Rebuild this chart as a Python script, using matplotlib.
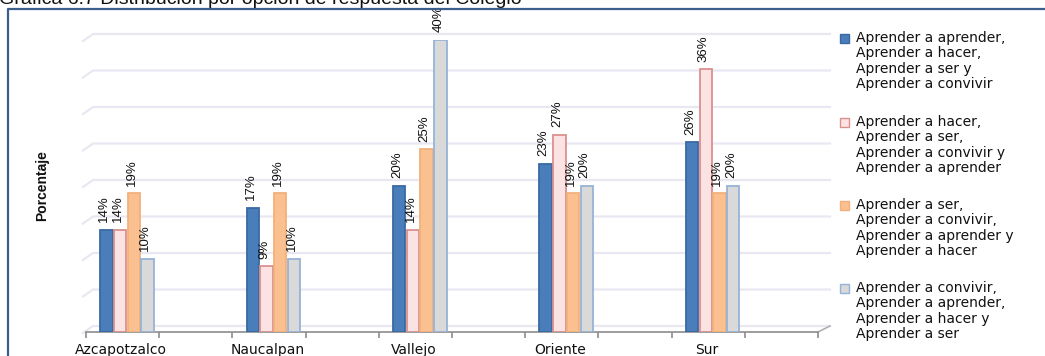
import matplotlib
matplotlib.use("Agg")
import matplotlib.pyplot as plt
from matplotlib.patches import Rectangle
from matplotlib.lines import Line2D
import numpy as np

# ---- data ----
categories = ["Azcapotzalco", "Naucalpan", "Vallejo", "Oriente", "Sur"]
series_labels = [
    "Aprender a aprender,\nAprender a hacer,\nAprender a ser y\nAprender a convivir",
    "Aprender a hacer,\nAprender a ser,\nAprender a convivir y\nAprender a aprender",
    "Aprender a ser,\nAprender a convivir,\nAprender a aprender y\nAprender a hacer",
    "Aprender a convivir,\nAprender a aprender,\nAprender a hacer y\nAprender a ser",
]
s1 = [14, 17, 20, 23, 26]
s2 = [14, 9, 14, 27, 36]
s3 = [19, 19, 25, 19, 19]
s4 = [10, 10, 40, 20, 20]
series = [s1, s2, s3, s4]
title = "Gráfica 6.7 Distribución por opción de respuesta del Colegio"
ylabel = "Porcentaje"

# ---- style ----
fills = ["#4A7EBB", "#FBE3E3", "#FAC090", "#D9D9D9"]
edges = ["#3A69A2", "#D9908E", "#F3B07C", "#95B3D7"]
grid_color = "#E9E7F1"
narrow = ["Liberation Sans Narrow", "Liberation Sans", "DejaVu Sans"]

W, H = 1045, 356
fig = plt.figure(figsize=(W / 100, H / 100), dpi=100)
fig.patch.set_facecolor("white")

# axes placement (pixels)
axL, axR, axB, axT = 86, 818, 332, 40
ax = fig.add_axes([axL / W, (H - axB) / H, (axR - axL) / W, (axB - axT) / H])
ax.set_facecolor("none")
ax.set_ylim(0, 40)
x0 = -0.28
ax.set_xlim(x0, x0 + 5.0)
for s in ["left", "right", "top"]:
    ax.spines[s].set_visible(False)
ax.spines["bottom"].set_color("#8C8C8C")
ax.spines["bottom"].set_linewidth(1.2)
ax.set_yticks([])

x = np.arange(len(categories))
ax.set_xticks(x - 0.04)
ax.set_xticklabels(categories, fontsize=10, family="DejaVu Sans", color="#111111")
ax.tick_params(axis="x", which="major", length=0, pad=8)
ax.set_xticks(np.arange(x0, x0 + 5.01, 0.5), minor=True)
ax.tick_params(axis="x", which="minor", length=4, color="#8C8C8C", width=1.2)

# back-wall gridlines with a little perspective
axh = axB - axT
axw = axR - axL
up = 6.0 / axh
for v in range(0, 45, 5):
    yf = v / 40 + up
    ax.plot([-3 / axw, 7 / axw, 1 + 12 / axw], [yf - 7 / axh, yf, yf],
            transform=ax.transAxes, color=grid_color, lw=1.6, clip_on=False, zorder=0)
# floor right edge
ax.plot([1, 1 + 12 / axw], [0, up], transform=ax.transAxes, color="#B0B0B0",
        lw=1.2, clip_on=False, zorder=1)

# bars
bw = 0.085
step = 0.0935
for i, (vals, fc, ec) in enumerate(zip(series, fills, edges)):
    xs = x + (i - 1.5) * step
    ax.bar(xs, vals, width=bw, color=fc, edgecolor=ec, linewidth=1.3, zorder=3)
    for xi, v in zip(xs, vals):
        ax.annotate(f"{v}%", xy=(xi, v), xytext=(-1.5, 5.5), textcoords="offset points",
                    rotation=90, ha="center", va="bottom", fontsize=9.5,
                    family=narrow, color="#111111", zorder=4)

# y label
fig.text(42 / W, (H - 186) / H, ylabel, rotation=90, ha="center", va="center",
         fontsize=10, fontweight="bold", family=narrow, color="#111111")

# legend (manual, handle aligned with first line)
first_lines = [38, 122, 205, 288]
line_gap = 15.3
for lab, fc, ec, y0 in zip(series_labels, fills, edges, first_lines):
    fig.patches.append(Rectangle((840 / W, (H - y0 - 4.5) / H), 9 / W, 9 / H,
                                 transform=fig.transFigure, facecolor=fc,
                                 edgecolor=ec, linewidth=1.0))
    for k, line in enumerate(lab.split("\n")):
        fig.text(856 / W, (H - (y0 + k * line_gap)) / H, line, ha="left", va="center",
                 fontsize=10, family="DejaVu Sans", color="#111111")

# frame border (top and left)
bc = "#3B5E8C"
fig.lines.append(Line2D([8 / W, 8 / W, 1.0], [0.0, (H - 9) / H, (H - 9) / H],
                        transform=fig.transFigure, color=bc, lw=1.6))

# title (cut at top edge as in the reference)
fig.text(-1 / W, (H - 3.5) / H, title, ha="left", va="baseline", fontsize=14,
         family=["Liberation Sans", "DejaVu Sans"], color="#111111")

fig.savefig("out.png", dpi=100, facecolor="white")
